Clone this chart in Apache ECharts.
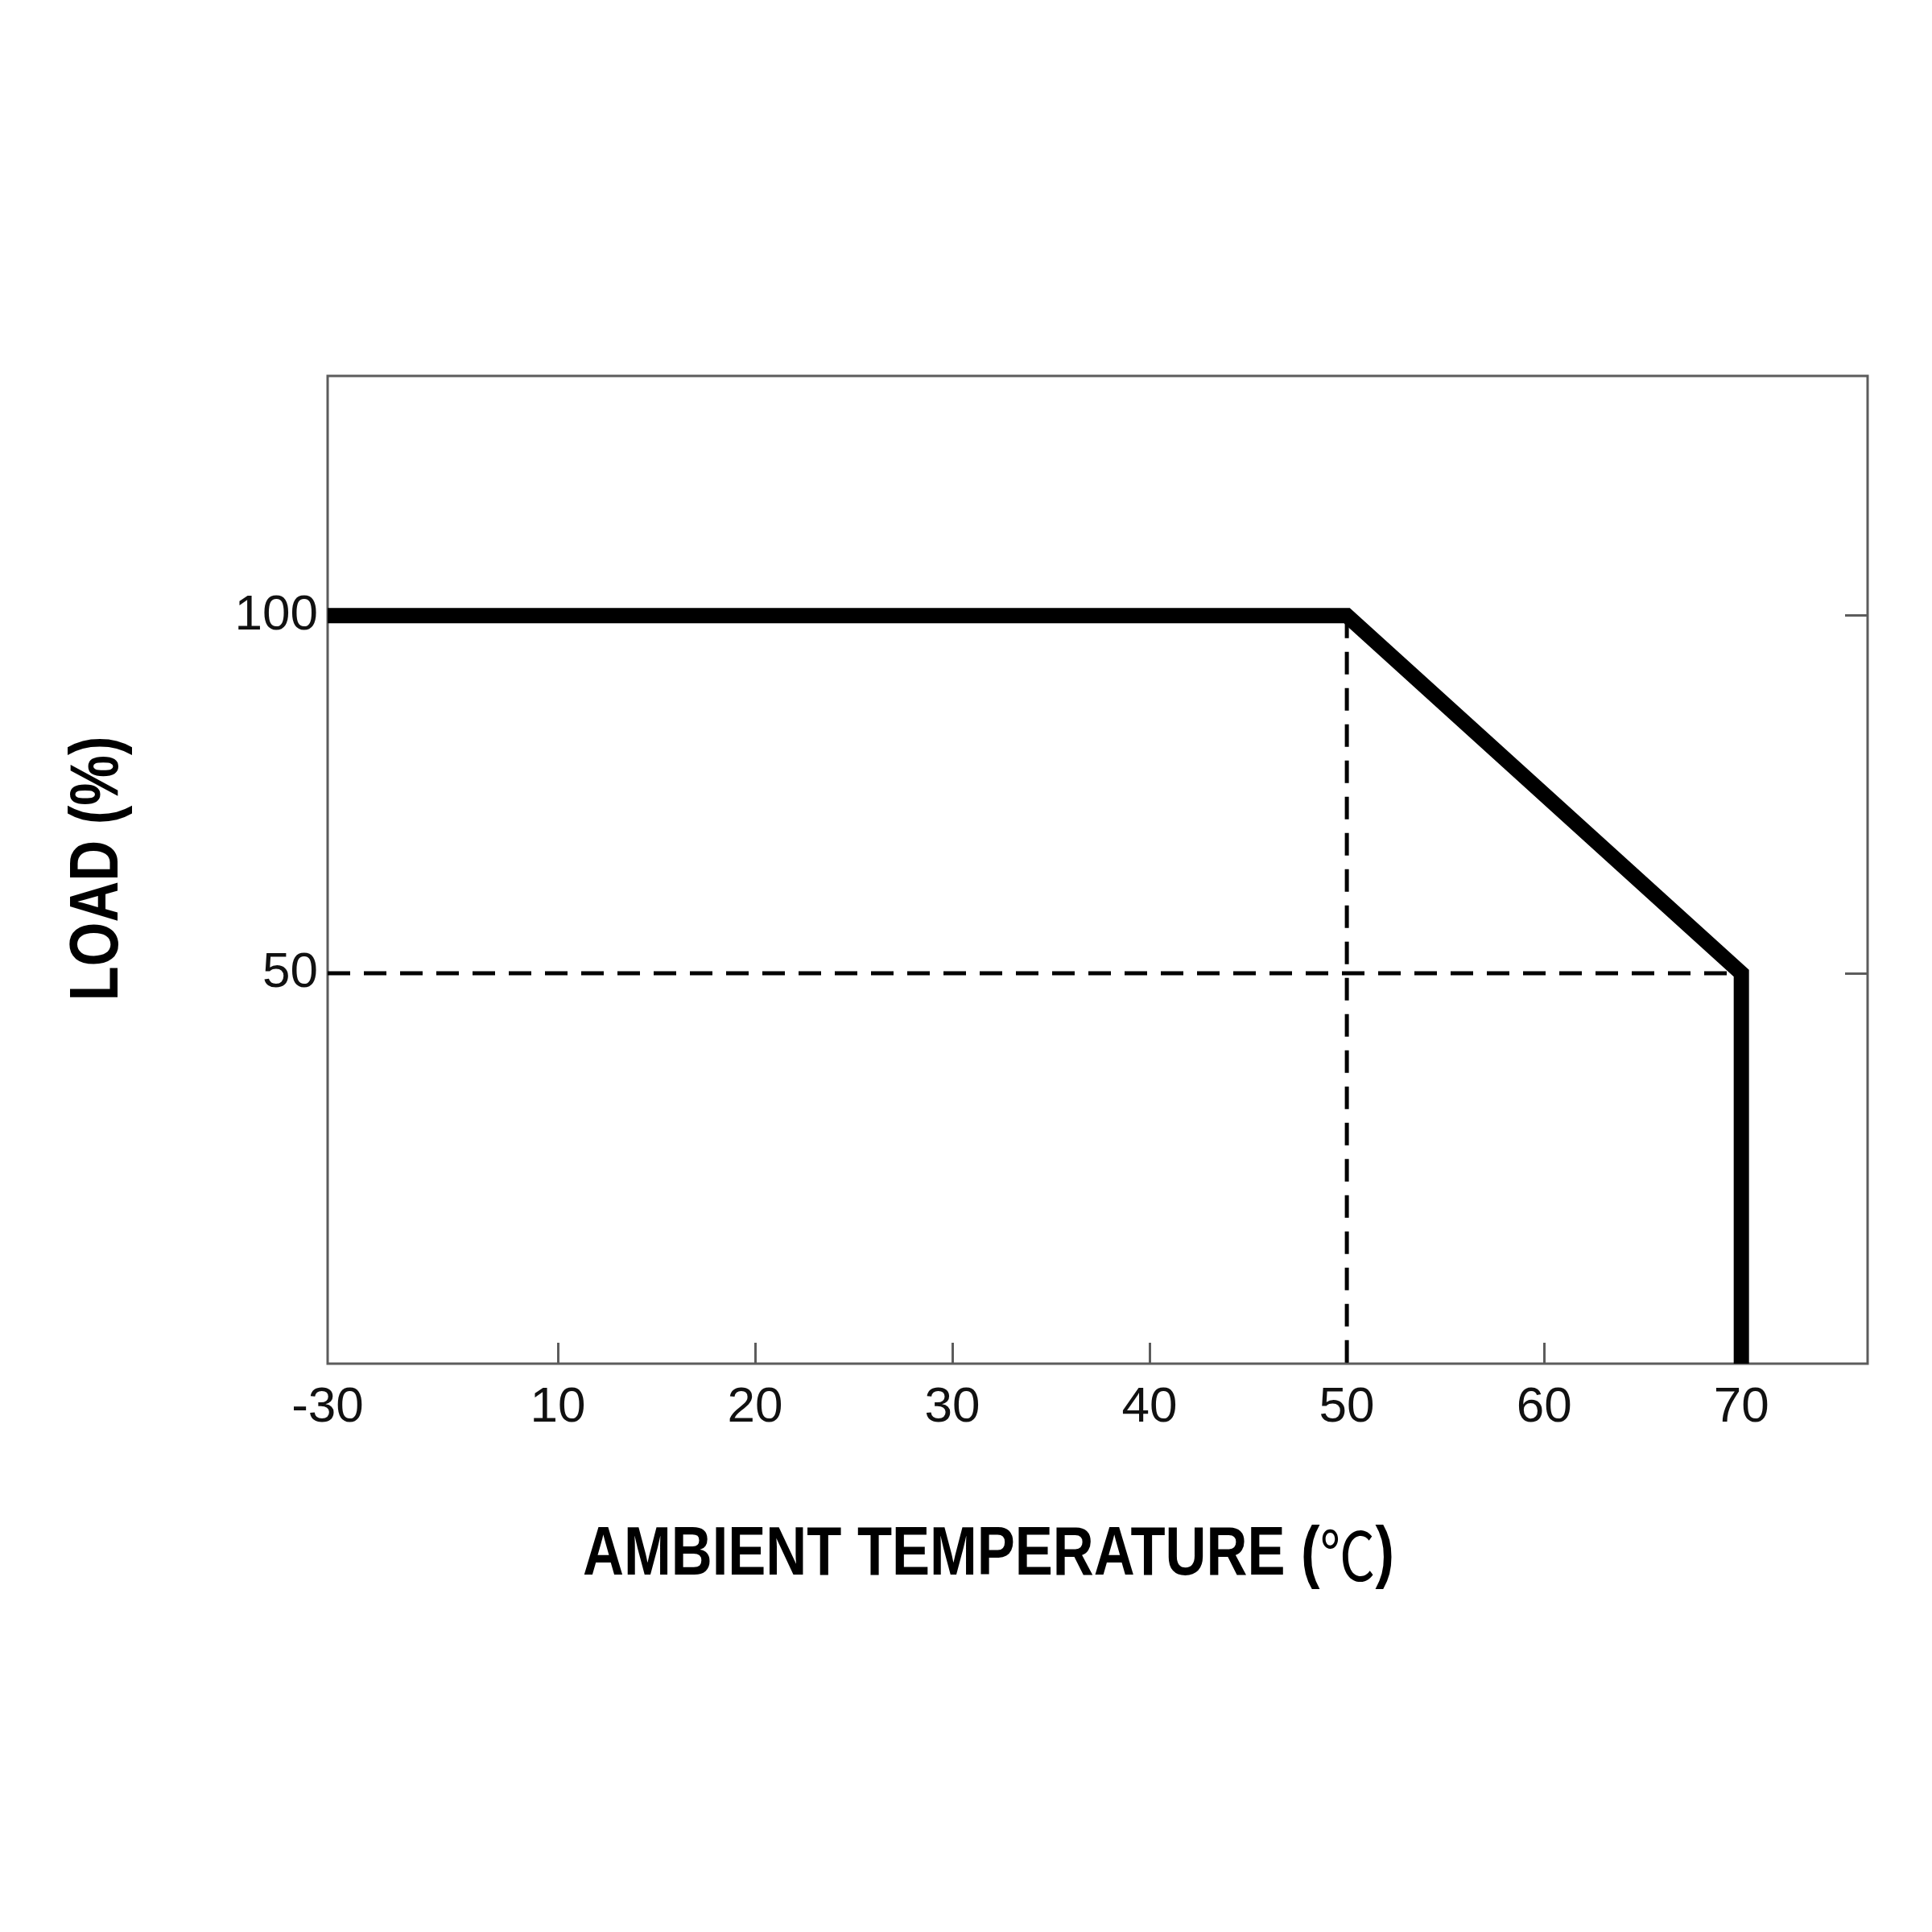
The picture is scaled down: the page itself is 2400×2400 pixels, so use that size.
<!DOCTYPE html>
<html>
<head>
<meta charset="utf-8">
<script src="https://cdn.jsdelivr.net/npm/echarts@6/dist/echarts.min.js"></script>
<style>
html,body{margin:0;padding:0;background:#fff;}
#chart{width:2400px;height:2400px;}
</style>
</head>
<body>
<div id="chart"></div>
<script>
// ---- data ----
const deratingTemp = [-30, 50, 70, 70];      // ambient temperature (°C)
const deratingLoad = [100, 100, 50, 0];      // load (%)
const dropLineTemp = [50, 50];               // dashed guide at 50°C
const dropLineLoad = [100, 0];
const levelLineTemp = [-30, 70];             // dashed guide at 50% load
const levelLineLoad = [50, 50];
const xTickLabels = [-30, 10, 20, 30, 40, 50, 60, 70];
const yTickLabels = [50, 100];
const xTitle = 'AMBIENT TEMPERATURE (';
const yTitle = 'LOAD (%)';

// broken axes: the first x label (-30) and the y origin (0) sit at the box edges
const X_START = -30, X_START_POS = -1.67, X_MAX = 76.4;
const Y_START = 0, Y_START_POS = -4.6, Y_MAX = 133.5;
const mapX = t => (t === X_START ? X_START_POS : t);
const mapY = v => (v === Y_START ? Y_START_POS : v);
const pts = (xs, ys) => xs.map((x, i) => [mapX(x), mapY(ys[i])]);

const chart = echarts.init(document.getElementById('chart'));
const axisCol = '#5c5c5c';
const tickFont = { fontFamily: 'Liberation Sans', fontSize: 62, color: '#111' };

chart.setOption({
  backgroundColor: '#fff',
  animation: false,
  grid: { left: 407, right: 80, top: 467, bottom: 706, show: true, borderColor: axisCol, borderWidth: 3, backgroundColor: 'transparent' },
  xAxis: {
    type: 'value', min: X_START_POS, max: X_MAX,
    axisLine: { show: false, onZero: false },
    splitLine: { show: false },
    axisTick: { show: true, inside: true, length: 26, lineStyle: { color: axisCol, width: 3 },
      customValues: xTickLabels.filter(v => v !== X_START) },
    axisLabel: { show: true, margin: 24, ...tickFont,
      customValues: xTickLabels.map(mapX),
      formatter: v => (Math.abs(v - X_START_POS) < 1e-6 ? String(X_START) : String(Math.round(v))) }
  },
  yAxis: [
    {
      type: 'value', min: Y_START_POS, max: Y_MAX, position: 'left',
      axisLine: { show: false, onZero: false }, splitLine: { show: false },
      axisTick: { show: true, inside: true, length: 26, lineStyle: { color: axisCol, width: 3 }, customValues: yTickLabels },
      axisLabel: { show: true, margin: 12, ...tickFont, customValues: yTickLabels }
    },
    {
      type: 'value', min: Y_START_POS, max: Y_MAX, position: 'right',
      axisLine: { show: false, onZero: false }, splitLine: { show: false },
      axisTick: { show: true, inside: true, length: 28, lineStyle: { color: axisCol, width: 3 }, customValues: yTickLabels },
      axisLabel: { show: false }
    }
  ],
  series: [
    { type: 'line', data: pts(levelLineTemp, levelLineLoad), symbol: 'none', silent: true,
      lineStyle: { color: '#000', width: 5, type: [28, 17] }, z: 2 },
    { type: 'line', data: pts(dropLineTemp, dropLineLoad), symbol: 'none', silent: true,
      lineStyle: { color: '#000', width: 5, type: [28, 17] }, z: 2 },
    { type: 'line', data: pts(deratingTemp, deratingLoad), symbol: 'none', silent: true,
      lineStyle: { color: '#000', width: 19, join: 'miter', cap: 'butt' }, z: 3 }
  ],
  graphic: [
    { type: 'text', x: 1228, y: 1932, scaleX: 0.82, style: {
        text: '{t|' + xTitle + '}{c|℃}{t|)}',
        align: 'center', verticalAlign: 'middle',
        rich: {
          t: { fontFamily: 'Liberation Sans', fontWeight: 'bold', fontSize: 86, fill: '#000' },
          c: { fontFamily: 'Noto Sans CJK SC', fontWeight: 'normal', fontSize: 84, fill: '#000' }
        } } },
    { type: 'text', x: 122, y: 1079, rotation: Math.PI / 2, scaleX: 0.82, style: {
        text: yTitle, align: 'center', verticalAlign: 'middle',
        fontFamily: 'Liberation Sans', fontWeight: 'bold', fontSize: 86, fill: '#000' } }
  ]
});
</script>
</body>
</html>
